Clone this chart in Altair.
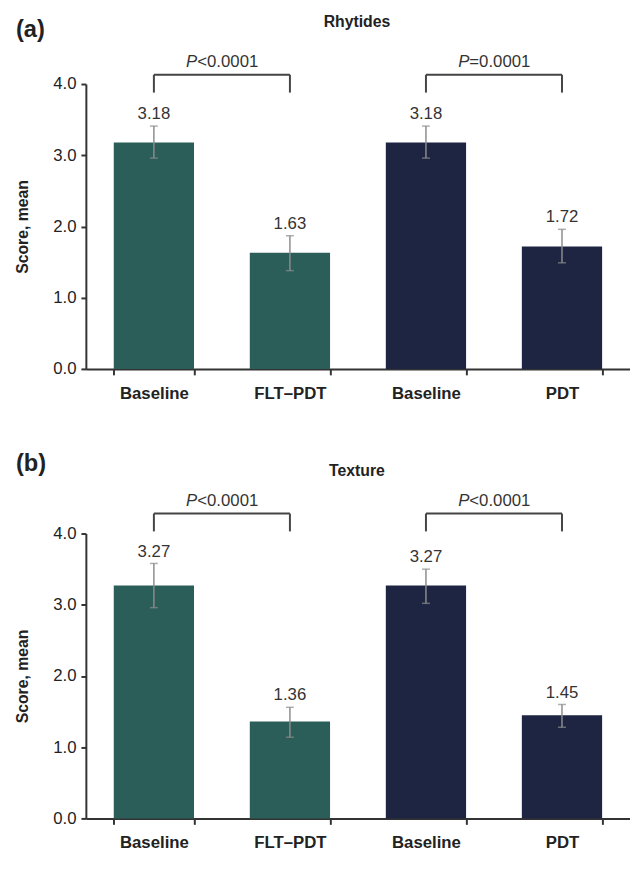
import altair as alt
import pandas as pd

# ---- data ----
categories = ["Baseline", "FLT–PDT", "Baseline", "PDT"]
arms = ["FLT–PDT", "FLT–PDT", "PDT", "PDT"]

rhytides_mean = [3.18, 1.63, 3.18, 1.72]
rhytides_low = [2.96, 1.38, 2.96, 1.49]
rhytides_high = [3.41, 1.87, 3.41, 1.96]

texture_mean = [3.27, 1.36, 3.27, 1.45]
texture_low = [2.96, 1.14, 3.02, 1.28]
texture_high = [3.58, 1.56, 3.50, 1.60]

rhytides_p = ["<0.0001", "=0.0001"]
texture_p = ["<0.0001", "<0.0001"]

# bracket leg bottom / bracket top, in score units
rhytides_bracket = [3.88, 4.13]
texture_bracket = [4.03, 4.28]

y_ticks = [0, 1, 2, 3, 4]
arm_colors = ["#2B5E59", "#1E2542"]

keys = [f"{c}_{i}" for i, c in enumerate(categories)]

FONT = "Liberation Sans"
W, H = 552, 289

XS = alt.Scale(domain=keys, paddingInner=0.41, paddingOuter=0.205)


def panel(letter, letter_y, title, mean, low, high, pvals, bracket):
    df = pd.DataFrame({
        "key": keys, "arm": arms, "mean": mean, "low": low, "high": high,
        "label": [f"{v:.2f}" for v in mean],
    })
    br = pd.DataFrame({
        "start": [keys[0], keys[2]], "end": [keys[1], keys[3]],
        "bottom": [bracket[0]] * 2, "top": [bracket[1]] * 2,
        "p": pvals, "P": ["P", "P"],
    })
    legs = pd.DataFrame({"key": keys, "bottom": [bracket[0]] * 4, "top": [bracket[1]] * 4})

    x = alt.X(
        "key:N", scale=XS,
        axis=alt.Axis(
            title=None, labelExpr="split(datum.label, '_')[0]", labelAngle=0,
            labelFont=FONT, labelFontWeight="bold", labelFontSize=17, labelColor="#222",
            labelPadding=11, tickBand="extent", tickSize=6, tickColor="#333",
            tickWidth=2, domainColor="#333", domainWidth=2,
        ),
    )
    xk = alt.X("key:N", scale=XS)
    y = alt.Y(
        "mean:Q",
        scale=alt.Scale(domain=[0, 4], nice=False),
        axis=alt.Axis(
            title="Score, mean", values=y_ticks, format=".1f", grid=False,
            labelFont=FONT, labelFontSize=17, labelColor="#222", labelPadding=5,
            tickSize=5, tickColor="#333", tickWidth=2, domainColor="#333", domainWidth=2,
            titleFont=FONT, titleFontSize=16, titleFontWeight="bold", titleColor="#222",
            titlePadding=23,
        ),
    )
    base = alt.Chart(df)
    bars = base.mark_bar().encode(
        x=x, y=y,
        color=alt.Color("arm:N", scale=alt.Scale(domain=["FLT–PDT", "PDT"], range=arm_colors), legend=None),
    )
    err = base.mark_rule(color="#8c8c8c", strokeWidth=1.5).encode(x=xk, y="low:Q", y2="high:Q")
    cap_lo = base.mark_tick(color="#8c8c8c", thickness=1.5, size=8).encode(x=xk, y="low:Q")
    cap_hi = base.mark_tick(color="#8c8c8c", thickness=1.5, size=8).encode(x=xk, y="high:Q")
    vals = base.mark_text(baseline="bottom", dy=-3, font=FONT, fontSize=17, color="#333").encode(
        x=xk, y="high:Q", text="label:N")

    bchart = alt.Chart(br)
    xs = alt.X("start:N", scale=XS)
    hline = bchart.mark_rule(color="#444", strokeWidth=2).encode(x=xs, x2="end:N", y="top:Q")
    vlegs = alt.Chart(legs).mark_rule(color="#444", strokeWidth=2).encode(
        x=xk, y="bottom:Q", y2="top:Q")
    ptxt = bchart.mark_text(align="right", baseline="bottom", dx=44, dy=-4, font=FONT,
                            fontSize=17, fontStyle="italic", color="#333").encode(
        x=xs, y="top:Q", text="P:N")
    vtxt = bchart.mark_text(align="left", baseline="bottom", dx=44, dy=-4, font=FONT,
                            fontSize=17, color="#333").encode(
        x=xs, y="top:Q", text="p:N")

    hdr = pd.DataFrame({"t": [title], "l": [letter]})
    ttl = alt.Chart(hdr).mark_text(align="center", baseline="middle", font=FONT, fontSize=16,
                                   fontWeight="bold", color="#222").encode(
        text="t:N", x=alt.value(W / 2 - 1), y=alt.value(-63))
    let = alt.Chart(hdr).mark_text(align="left", baseline="middle", font=FONT, fontSize=24,
                                   fontWeight="bold", color="#222").encode(
        text="l:N", x=alt.value(-71), y=alt.value(letter_y))

    return alt.layer(bars, err, cap_lo, cap_hi, vals, hline, vlegs, ptxt, vtxt, ttl, let).properties(
        width=W, height=H)


pa = panel("(a)", -55, "Rhytides", rhytides_mean, rhytides_low, rhytides_high, rhytides_p, rhytides_bracket)
pb = panel("(b)", -70, "Texture", texture_mean, texture_low, texture_high, texture_p, texture_bracket)

chart = alt.vconcat(pa, pb, spacing=167, bounds="flush").properties(
    padding={"left": 6, "top": 0, "right": 0, "bottom": 0}
).configure_view(stroke=None)

chart.save("out.html", embed_options={"renderer": "svg", "actions": False})
